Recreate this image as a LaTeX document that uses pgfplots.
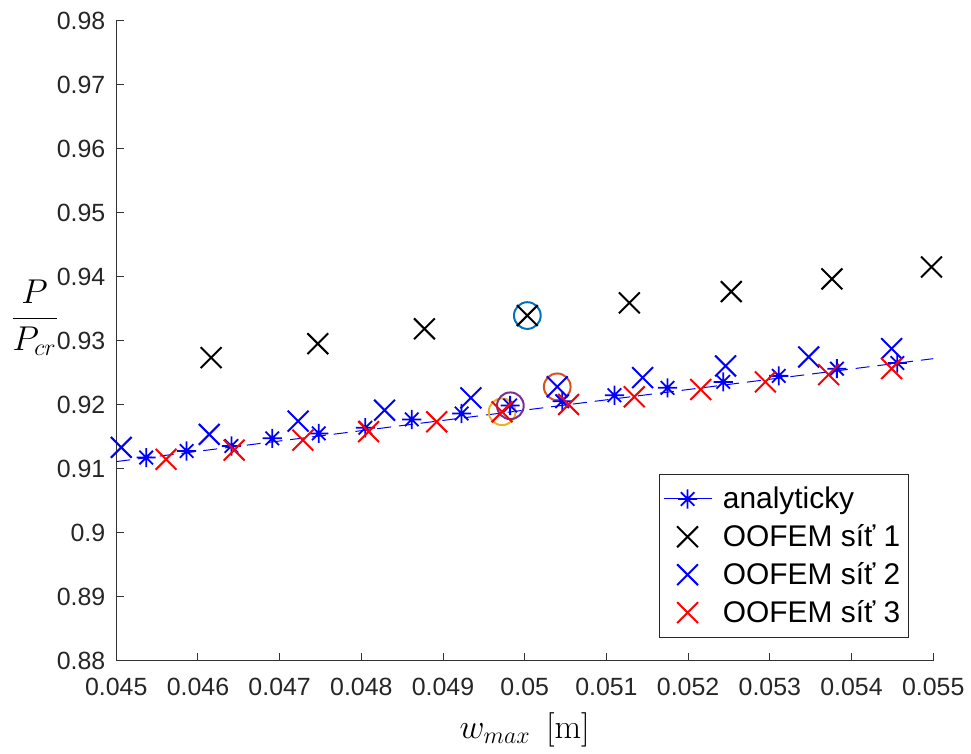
\documentclass[border=0pt]{standalone}
\usepackage{amsmath}
\usepackage[no-math]{fontspec}
\setmainfont{Liberation Sans}
\usepackage{pgfplots}
\pgfplotsset{compat=1.18}

\definecolor{mlblue}{rgb}{0,0.447,0.741}
\definecolor{mlorange}{rgb}{0.85,0.325,0.098}
\definecolor{mlyellow}{rgb}{0.929,0.694,0.125}
\definecolor{mlpurple}{rgb}{0.494,0.184,0.556}

% MATLAB-style 8-arm asterisk
\pgfdeclareplotmark{ast8}{%
  \pgfpathmoveto{\pgfqpoint{-\pgfplotmarksize}{0pt}}\pgfpathlineto{\pgfqpoint{\pgfplotmarksize}{0pt}}%
  \pgfpathmoveto{\pgfqpoint{0pt}{-\pgfplotmarksize}}\pgfpathlineto{\pgfqpoint{0pt}{\pgfplotmarksize}}%
  \pgfpathmoveto{\pgfqpoint{-.7071\pgfplotmarksize}{-.7071\pgfplotmarksize}}\pgfpathlineto{\pgfqpoint{.7071\pgfplotmarksize}{.7071\pgfplotmarksize}}%
  \pgfpathmoveto{\pgfqpoint{-.7071\pgfplotmarksize}{.7071\pgfplotmarksize}}\pgfpathlineto{\pgfqpoint{.7071\pgfplotmarksize}{-.7071\pgfplotmarksize}}%
  \pgfusepathqstroke}

\begin{document}
\begin{tikzpicture}
\begin{axis}[
  scale only axis,
  width=410pt, height=321.15pt,
  xmin=0.045, xmax=0.055,
  ymin=0.88, ymax=0.98,
  axis x line*=bottom, axis y line*=left,
  axis line style={black!80, line width=0.5pt},
  tick align=inside, major tick length=4pt,
  tick style={black!80, line width=0.5pt},
  scaled ticks=false,
  xtick={0.045,0.046,0.047,0.048,0.049,0.05,0.051,0.052,0.053,0.054,0.055},
  xticklabels={0.045,0.046,0.047,0.048,0.049,0.05,0.051,0.052,0.053,0.054,0.055},
  ytick={0.88,0.89,0.9,0.91,0.92,0.93,0.94,0.95,0.96,0.97,0.98},
  yticklabels={0.88,0.89,0.9,0.91,0.92,0.93,0.94,0.95,0.96,0.97,0.98},
  tick label style={font=\fontsize{12.5}{15}\selectfont, text=black!85},
  xticklabel style={yshift=-5pt},
  yticklabel style={xshift=-2pt},
  xlabel={$w_{max}\mkern8mu[\mathrm{m}]$},
  ylabel={$\dfrac{P}{P_{cr}}$},
  every axis x label/.style={at={(rel axis cs:0.5,0)}, anchor=base, yshift=-39pt,
    font=\fontsize{17}{20}\selectfont},
  every axis y label/.style={at={(rel axis cs:0,0.5485)}, anchor=center, xshift=-41pt,
    yshift=-4pt, font=\fontsize{17}{20}\selectfont},
  clip=false,
  legend cell align=left,
  legend style={at={(rel axis cs:0.970,0.0363)}, anchor=south east,
    font=\fontsize{15}{18}\selectfont, draw=black!85, line width=0.5pt,
    inner xsep=2pt, inner ysep=4pt, row sep=2.5pt,
    /tikz/every odd column/.append style={column sep=3.5pt}},
]

% highlighted points (circles)
\addplot[only marks, mark=o, mark size=6.7pt, line width=1pt, mlblue, forget plot]
  coordinates {(0.050032,0.93396)};
\addplot[only marks, mark=o, mark size=6.7pt, line width=1pt, mlorange, forget plot]
  coordinates {(0.050398,0.92282)};
\addplot[only marks, mark=o, mark size=6.7pt, line width=1pt, mlyellow, forget plot]
  coordinates {(0.049723,0.91892)};
\addplot[only marks, mark=o, mark size=6.7pt, line width=1pt, mlpurple, forget plot]
  coordinates {(0.049824,0.91986)};

% analytic curve (dashed)
\addplot[blue, line width=0.5pt, dash pattern=on 7pt off 4pt, forget plot]
  coordinates {(0.045,0.91114) (0.055,0.92722)};

% analyticky
\addplot[only marks, blue, mark=ast8, mark size=4.8pt, line width=0.9pt, forget plot]
  coordinates {
  (0.045366,0.91176) (0.045861,0.91279) (0.046410,0.91357) (0.046910,0.91477)
  (0.047479,0.91554) (0.048049,0.91643) (0.048617,0.91772) (0.049227,0.91866)
  (0.049821,0.91990) (0.050459,0.92057) (0.051098,0.92151) (0.051748,0.92266)
  (0.052430,0.92359) (0.053110,0.92453) (0.053821,0.92566) (0.054561,0.92655)};

% OOFEM sit 1
\addplot[only marks, black, mark=x, mark size=7.4pt, line width=1pt, forget plot]
  coordinates {
  (0.046162,0.92738) (0.047467,0.92956) (0.048772,0.93189) (0.050032,0.93396)
  (0.051280,0.93594) (0.052528,0.93770) (0.053760,0.93968) (0.054979,0.94154)};

% OOFEM sit 2
\addplot[only marks, blue, mark=x, mark size=7.4pt, line width=1pt, forget plot]
  coordinates {
  (0.045061,0.91336) (0.046138,0.91539) (0.047227,0.91746) (0.048284,0.91917)
  (0.049341,0.92110) (0.050398,0.92282) (0.051443,0.92426) (0.052459,0.92608)
  (0.053476,0.92749) (0.054491,0.92878)};

% OOFEM sit 3
\addplot[only marks, red, mark=x, mark size=7.4pt, line width=1pt, forget plot]
  coordinates {
  (0.045610,0.91150) (0.046443,0.91294) (0.047284,0.91450) (0.048089,0.91581)
  (0.048922,0.91736) (0.049723,0.91892) (0.050537,0.92006) (0.051341,0.92126)
  (0.052154,0.92240) (0.052946,0.92360) (0.053720,0.92473) (0.054491,0.92567)};

\addlegendimage{legend image code/.code={
  \draw[blue, line width=0.5pt] (0pt,0pt) -- (24pt,0pt);
  \draw[blue, line width=0.9pt] plot[only marks, mark=ast8, mark size=4.8pt] coordinates {(12pt,0pt)};}}
\addlegendentry{analyticky}
\addlegendimage{legend image code/.code={
  \draw[black, line width=1pt] plot[only marks, mark=x, mark size=7.4pt] coordinates {(12pt,0pt)};
  \path (0pt,0pt) (24pt,0pt);}}
\addlegendentry{OOFEM síť 1}
\addlegendimage{legend image code/.code={
  \draw[blue, line width=1pt] plot[only marks, mark=x, mark size=7.4pt] coordinates {(12pt,0pt)};
  \path (0pt,0pt) (24pt,0pt);}}
\addlegendentry{OOFEM síť 2}
\addlegendimage{legend image code/.code={
  \draw[red, line width=1pt] plot[only marks, mark=x, mark size=7.4pt] coordinates {(12pt,0pt)};
  \path (0pt,0pt) (24pt,0pt);}}
\addlegendentry{OOFEM síť 3}
\end{axis}
\path (current axis.south west) ++(-58.35pt,-45.35pt) rectangle ++(485.5pt,377pt);
\end{tikzpicture}
\end{document}
